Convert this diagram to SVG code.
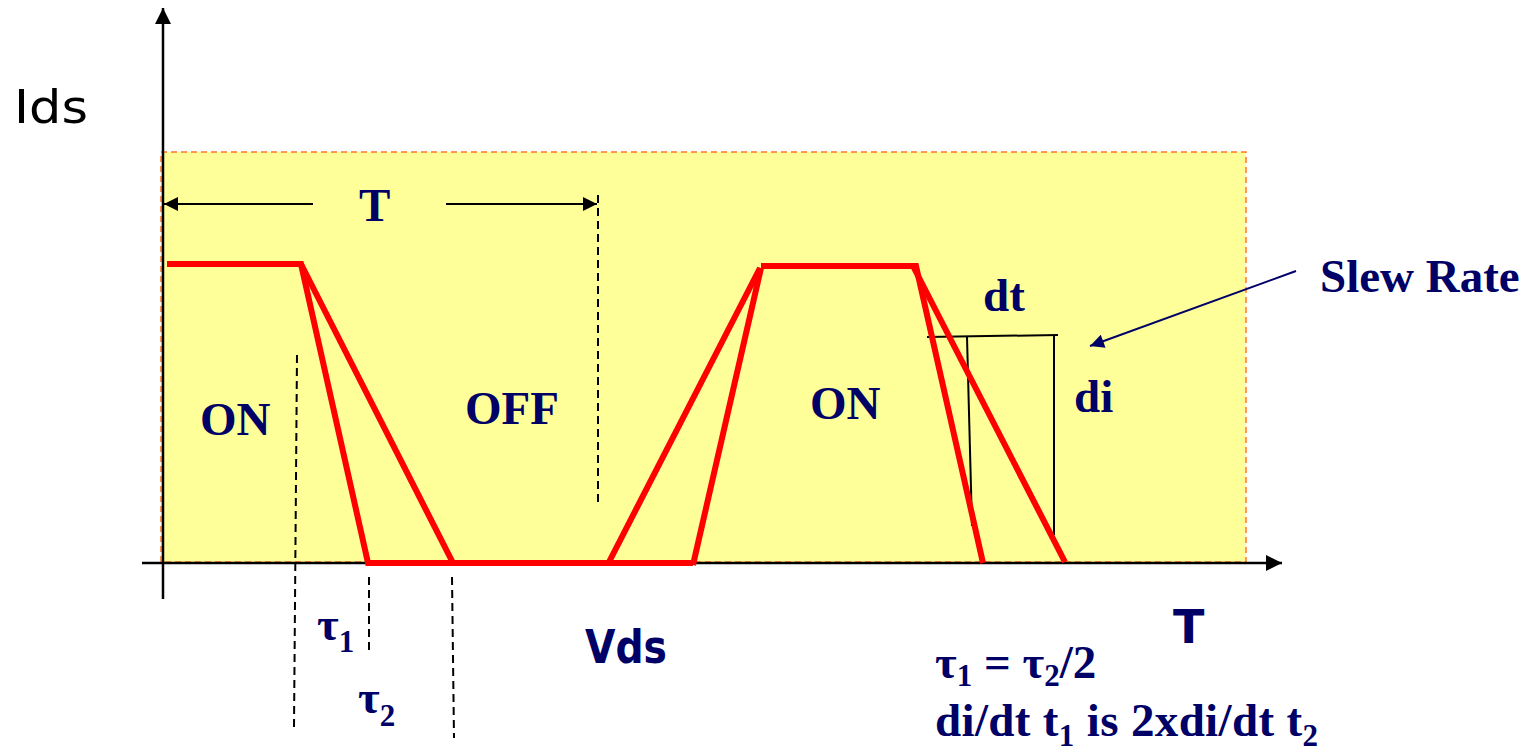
<svg xmlns="http://www.w3.org/2000/svg" width="1533" height="751" viewBox="0 0 1533 751">
<style>
.lbl{font-family:"Liberation Serif","Times New Roman",serif;font-weight:bold;font-size:47px;fill:#000066}
.sub{font-size:31px}
.comic{font-family:"DejaVu Sans","Noto Sans",sans-serif}
.wave{fill:none;stroke:#FF0000;stroke-width:6;stroke-linejoin:miter;stroke-linecap:butt}
.dash{fill:none;stroke:#000;stroke-width:2;stroke-dasharray:8,5}
.thin{fill:none;stroke:#000;stroke-width:2}
.axis{fill:none;stroke:#000;stroke-width:2.5}
</style>
<defs>
<marker id="ah" viewBox="0 0 10 10" refX="10" refY="5" markerWidth="16" markerHeight="16" markerUnits="userSpaceOnUse" orient="auto"><path d="M0,0 L10,5 L0,10 z" fill="#000"/></marker>
<marker id="ahs" viewBox="0 0 10 10" refX="10" refY="5" markerWidth="15" markerHeight="14" markerUnits="userSpaceOnUse" orient="auto"><path d="M0,0 L10,5 L0,10 z" fill="#000"/></marker>
<marker id="ahn" viewBox="0 0 10 10" refX="10" refY="5" markerWidth="16" markerHeight="14" markerUnits="userSpaceOnUse" orient="auto"><path d="M0,0 L10,5 L0,10 z" fill="#000066"/></marker>
</defs>
<g id="background">
<rect x="161" y="152" width="1085" height="410" fill="#FFFF99" stroke="#FF7722" stroke-width="1.5" stroke-dasharray="6,4"/>
</g>
<g id="connectors">
<line class="axis" x1="163" y1="599" x2="163" y2="8" marker-end="url(#ah)"/>
<line class="axis" x1="142" y1="563" x2="1282" y2="563" marker-end="url(#ah)"/>
<line class="thin" stroke-width="1.5" x1="313" y1="204" x2="164" y2="204" marker-end="url(#ahs)"/>
<line class="thin" stroke-width="1.5" x1="446" y1="204" x2="597" y2="204" marker-end="url(#ahs)"/>
<line fill="none" stroke="#000066" stroke-width="2" x1="1296" y1="271" x2="1090" y2="346" marker-end="url(#ahn)"/>
<line class="dash" x1="297" y1="355" x2="294" y2="727"/>
<line class="dash" x1="369" y1="577" x2="369" y2="655"/>
<line class="dash" x1="452" y1="577" x2="454" y2="738"/>
<line class="dash" x1="598" y1="195" x2="598" y2="507"/>
<line class="thin" x1="927" y1="337" x2="1058" y2="335"/>
<line class="thin" x1="967" y1="337" x2="972" y2="526"/>
<line class="thin" x1="1054" y1="336" x2="1054" y2="535"/>
</g>
<g id="waveform">
<polyline class="wave" points="167,264 301,264 368,563 693,563"/>
<polyline class="wave" points="301,264 453,563"/>
<polyline class="wave" points="608,564 760,268"/>
<polyline class="wave" points="693,565 761,268"/>
<polyline class="wave" points="761,266 916,266 983,563"/>
<polyline class="wave" points="913,266 1065,562"/>
</g>
<g id="label-ids"><text class="comic" x="14" y="123" font-size="46" fill="#000" textLength="74" lengthAdjust="spacingAndGlyphs">Ids</text></g>
<g id="label-T"><text class="lbl" x="359" y="221">T</text></g>
<g id="label-on1"><text class="lbl" x="200" y="435">ON</text></g>
<g id="label-off"><text class="lbl" x="465" y="424">OFF</text></g>
<g id="label-on2"><text class="lbl" x="810" y="419">ON</text></g>
<g id="label-dt"><text class="lbl" x="983" y="311">dt</text></g>
<g id="label-di"><text class="lbl" x="1074" y="412">di</text></g>
<g id="label-slew"><text class="lbl" x="1320" y="292">Slew Rate</text></g>
<g id="label-tau1"><text class="lbl" x="317" y="640">τ<tspan class="sub" dy="12">1</tspan></text></g>
<g id="label-tau2"><text class="lbl" x="358" y="713">τ<tspan class="sub" dy="13">2</tspan></text></g>
<g id="label-vds"><text class="comic" x="585" y="663" font-size="46" font-weight="bold" fill="#000066" textLength="82" lengthAdjust="spacingAndGlyphs">Vds</text></g>
<g id="label-Taxis"><text class="comic" x="1173" y="643" font-size="46" font-weight="bold" fill="#000066">T</text></g>
<g id="label-eq1"><text class="lbl" x="935" y="678">τ<tspan class="sub" dy="8">1</tspan><tspan dy="-8"> = τ</tspan><tspan class="sub" dy="8">2</tspan><tspan dy="-8">/2</tspan></text></g>
<g id="label-eq2"><text class="lbl" x="935" y="736" textLength="383">di/dt t<tspan class="sub" dy="10">1</tspan><tspan dy="-10"> is 2xdi/dt t</tspan><tspan class="sub" dy="10">2</tspan></text></g>
</svg>
